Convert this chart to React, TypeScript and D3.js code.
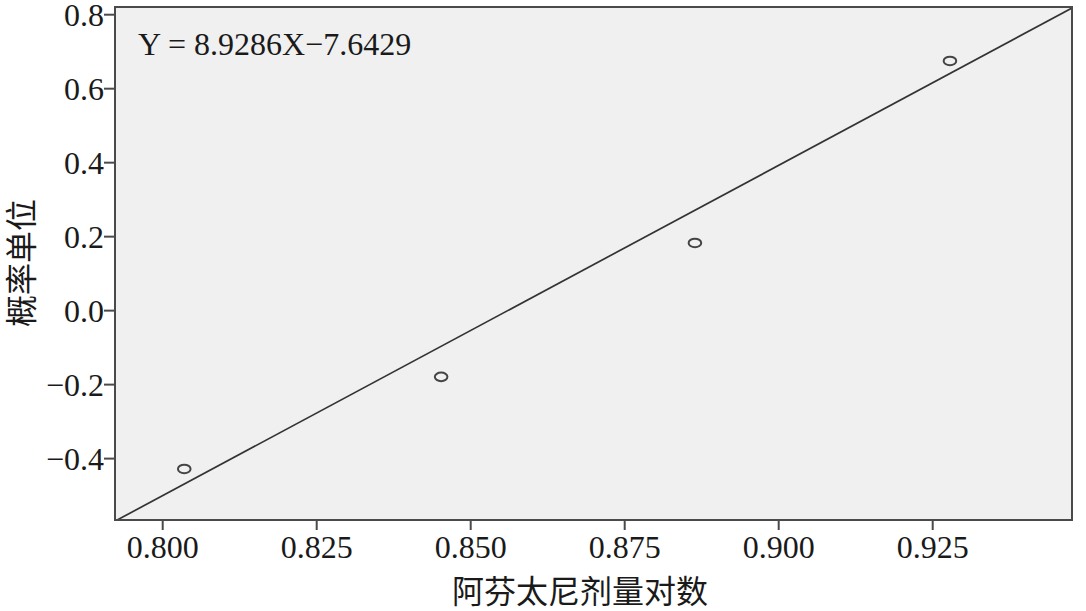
import React from "react";
import * as d3 from "d3";

const xValues = [0.8035, 0.8452, 0.8864, 0.9278];
const yValues = [-0.428, -0.179, 0.183, 0.675];
const xTicks = [0.8, 0.825, 0.85, 0.875, 0.9, 0.925];
const yTicks = [-0.4, -0.2, 0.0, 0.2, 0.4, 0.6, 0.8];
const slope = 8.9286;
const intercept = -7.6429;
const equationLabel = "Y = 8.9286X\u22127.6429";
const xTitle = "阿芬太尼剂量对数";
const yTitle = "概率单位";

const W = 1086;
const H = 611;
const left = 115;
const right = 1072;
const top = 7;
const bottom = 520;

export default function App() {
  const x = d3.scaleLinear().domain([0.8, 0.925]).range([162.7, 932.7]);
  const y = d3.scaleLinear().domain([-0.4, 0.8]).range([458.6, 14.7]);
  const x0 = x.invert(left);
  const x1 = x.invert(right);
  const fmtY = (v: number) => {
    const s = v.toFixed(1);
    return s.startsWith("-") ? "\u2212" + s.slice(1) : s;
  };
  const serif = "'Liberation Serif', 'DejaVu Serif', serif";
  const cjk = "'Noto Sans CJK SC', sans-serif";
  return (
    <svg
      width={W}
      height={H}
      style={{ position: "absolute", left: 0, top: 0, background: "#fff" }}
    >
      <defs>
        <clipPath id="plotClip">
          <rect x={left} y={top} width={right - left} height={bottom - top} />
        </clipPath>
      </defs>
      <rect x={left} y={top} width={right - left} height={bottom - top} fill="#f0f0f0" />
      <g clipPath="url(#plotClip)">
        <line
          x1={x(x0)}
          y1={y(slope * x0 + intercept)}
          x2={x(x1)}
          y2={y(slope * x1 + intercept)}
          stroke="#333"
          strokeWidth={1.7}
        />
        {xValues.map((v, i) => (
          <ellipse
            key={i}
            cx={x(v)}
            cy={y(yValues[i])}
            rx={6.3}
            ry={4.3}
            fill="none"
            stroke="#444"
            strokeWidth={2}
          />
        ))}
      </g>
      <rect
        x={left}
        y={top}
        width={right - left}
        height={bottom - top}
        fill="none"
        stroke="#4a4a4a"
        strokeWidth={2}
      />
      {yTicks.map((t) => (
        <g key={t}>
          <line x1={left - 11} x2={left} y1={y(t)} y2={y(t)} stroke="#4a4a4a" strokeWidth={2} />
          <text
            x={left - 11}
            y={y(t) + 11}
            textAnchor="end"
            fontFamily={serif}
            fontSize={32}
            fill="#1a1a1a"
          >
            {fmtY(t)}
          </text>
        </g>
      ))}
      {xTicks.map((t) => (
        <g key={t}>
          <line x1={x(t)} x2={x(t)} y1={bottom} y2={bottom + 10} stroke="#4a4a4a" strokeWidth={2} />
          <text
            x={x(t)}
            y={558}
            textAnchor="middle"
            fontFamily={serif}
            fontSize={32}
            fill="#1a1a1a"
          >
            {t.toFixed(3)}
          </text>
        </g>
      ))}
      <text x={138} y={55} fontFamily={serif} fontSize={32} fill="#1a1a1a">
        {equationLabel}
      </text>
      <text
        x={580}
        y={603}
        textAnchor="middle"
        fontFamily={cjk}
        fontSize={32}
        fill="#1a1a1a"
      >
        {xTitle}
      </text>
      <text
        transform={`translate(33, 263) rotate(-90)`}
        textAnchor="middle"
        fontFamily={cjk}
        fontSize={32}
        fill="#1a1a1a"
      >
        {yTitle}
      </text>
    </svg>
  );
}
